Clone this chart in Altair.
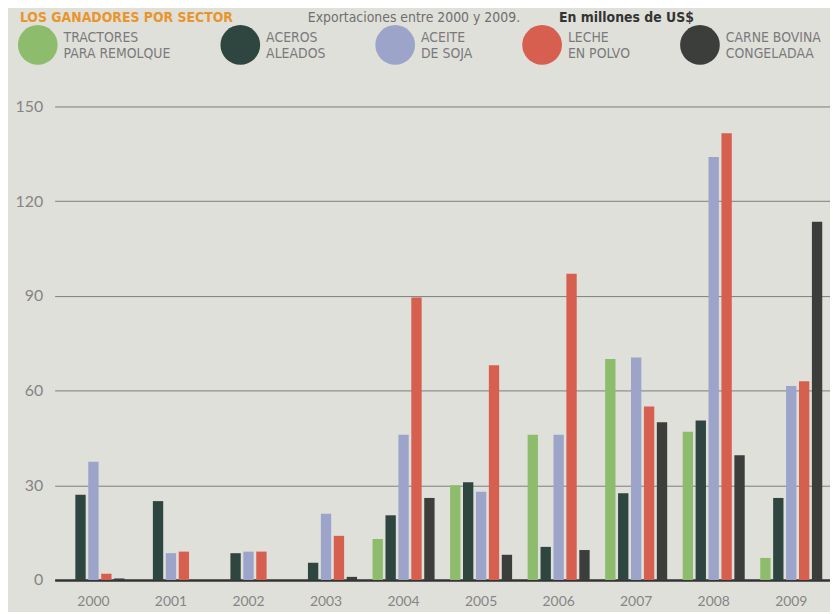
import altair as alt
import pandas as pd

years = ["2000", "2001", "2002", "2003", "2004", "2005", "2006", "2007", "2008", "2009"]
products = [
    "TRACTORES|PARA REMOLQUE",
    "ACEROS|ALEADOS",
    "ACEITE|DE SOJA",
    "LECHE|EN POLVO",
    "CARNE BOVINA|CONGELADAA",
]
colors = ["#8dbd6c", "#2e463f", "#9ca5c9", "#d65f4f", "#3c3e3c"]

tractores = [0, 0, 0, 0, 13, 30, 46, 70, 47, 7]
aceros = [27, 25, 8.5, 5.5, 20.5, 31, 10.5, 27.5, 50.5, 26]
aceite = [37.5, 8.5, 9, 21, 46, 28, 46, 70.5, 134, 61.5]
leche = [2, 9, 9, 14, 89.5, 68, 97, 55, 141.5, 63]
carne = [0.5, 0, 0, 1, 26, 8, 9.5, 50, 39.5, 113.5]

header_orange = "LOS GANADORES POR SECTOR"
header_gray = "Exportaciones entre 2000 y 2009."
header_bold = "En millones de US$"

series = [tractores, aceros, aceite, leche, carne]
rows = []
for p, vals in zip(products, series):
    for y, v in zip(years, vals):
        rows.append({"year": y, "product": p, "value": v})
df = pd.DataFrame(rows)

label_col = "#858585"
narrow = "Liberation Sans Narrow, DejaVu Sans Condensed, sans-serif"

bars = alt.Chart(df).mark_bar().encode(
    x=alt.X(
        "year:N",
        sort=years,
        scale=alt.Scale(paddingInner=0.2, paddingOuter=0.1),
        axis=alt.Axis(
            title=None, labelAngle=0, ticks=False, domainColor="#333333",
            domainWidth=2.5, labelColor=label_col, labelFont="Lato",
            labelFontSize=14, labelPadding=15, grid=False,
        ),
    ),
    xOffset=alt.XOffset("product:N", sort=products, scale=alt.Scale(paddingInner=0.2)),
    y=alt.Y(
        "value:Q",
        scale=alt.Scale(domain=[0, 150], nice=False),
        axis=alt.Axis(
            values=[0, 30, 60, 90, 120, 150], title=None, ticks=False, domain=False,
            gridColor="#7d7d7d", gridWidth=1, labelColor=label_col, labelFont="Lato",
            labelFontSize=16, labelPadding=12,
        ),
    ),
    color=alt.Color(
        "product:N",
        sort=products,
        scale=alt.Scale(domain=products, range=colors),
        legend=alt.Legend(
            title=None, orient="none", legendX=-37, legendY=-82,
            direction="horizontal", columns=5, symbolType="circle",
            symbolSize=1600, symbolStrokeWidth=0, symbolOpacity=1,
            labelExpr="split(datum.label, '|')",
            labelFont=narrow, labelBaseline="bottom",
            labelFontSize=14, labelColor="#7a7a7a", labelOffset=6,
            columnPadding=50, labelLimit=250,
        ),
    ),
)

t1 = alt.Chart(pd.DataFrame({"t": [header_orange]})).mark_text(
    align="left", baseline="alphabetic", font=narrow,
    fontSize=14, fontWeight="bold", color="#e8952c",
).encode(x=alt.value(-35), y=alt.value(-85), text="t:N")

t2 = alt.Chart(pd.DataFrame({"t": [header_gray]})).mark_text(
    align="left", baseline="alphabetic", font=narrow,
    fontSize=14, color="#6f6f6f",
).encode(x=alt.value(255), y=alt.value(-85), text="t:N")

t3 = alt.Chart(pd.DataFrame({"t": [header_bold]})).mark_text(
    align="left", baseline="alphabetic", font=narrow,
    fontSize=14, fontWeight="bold", color="#333333",
).encode(x=alt.value(508), y=alt.value(-85), text="t:N")

chart = alt.layer(bars, t1, t2, t3).properties(
    width=781,
    height=477,
    autosize=alt.AutoSizeParams(type="none"),
    padding={"left": 47, "top": 97, "right": 0, "bottom": 30},
    background="#e0e0da",
).configure_view(stroke=None)

chart.save("out.html", embed_options={"renderer": "svg", "actions": False})
